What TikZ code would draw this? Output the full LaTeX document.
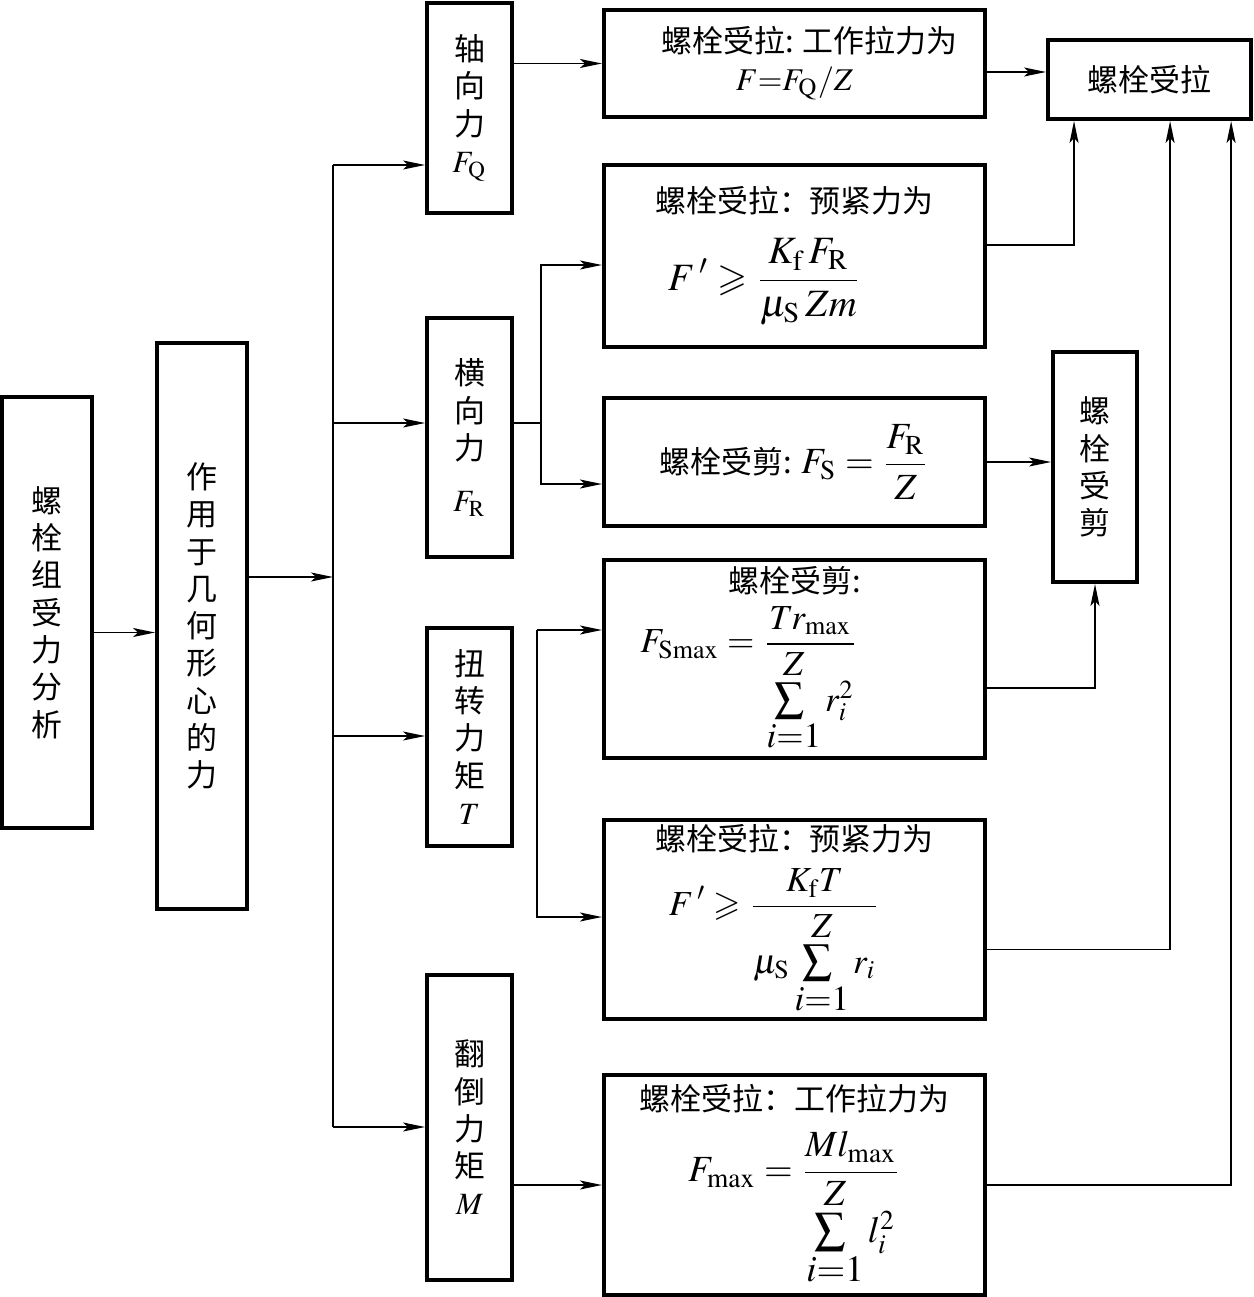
\documentclass[tikz,border=0pt]{standalone}
\usepackage{amsmath,amssymb}
\usepackage{mathptmx}
\usepackage{graphicx}
\usepackage[no-math]{fontspec}
\newfontfamily\cjk{Noto Sans CJK SC}
\usepackage{tikz}
\usetikzlibrary{positioning,arrows.meta,calc}
\newcommand{\rmsub}[1]{_{\mathrm{#1}}}
\newcommand{\fml}[2][11]{{\fontsize{#1}{13}\selectfont$\displaystyle #2$}}
\newcommand{\bigsum}[2]{\textstyle\mathop{\scalebox{1.2}{$\textstyle\sum$}}\limits_{\textstyle #1}^{\textstyle #2}}

\begin{document}
\begin{tikzpicture}[x=0.01cm,y=-0.01cm,
  box/.style={draw,line width=1.1pt,align=center,inner sep=0pt,font=\cjk\fontsize{8.8}{10.6}\selectfont},
  arr/.style={-{Stealth[length=2.2mm,width=0.9mm,inset=0.5mm]},line width=0.45pt}]
\useasboundingbox (0,0) rectangle (1253,1297);
% left column
\node[box,minimum width=0.9cm,minimum height=4.31cm] (zu) at (47,612.5) {螺\\栓\\组\\受\\力\\分\\析};
\node[box,minimum width=0.9cm,minimum height=5.66cm] (xin) at (202,626) {作\\用\\于\\几\\何\\形\\心\\的\\力};
% load kinds
\node[box,minimum width=0.85cm,minimum height=2.10cm] (zhou) at (469.5,108) {轴\\向\\力\\$F\rmsub{Q}$};
\node[box,minimum width=0.85cm,minimum height=2.39cm] (heng) at (469.5,437.5) {横\\向\\力\\[1.5mm]$F\rmsub{R}$};
\node[box,minimum width=0.85cm,minimum height=2.18cm] (niu) at (469.5,737) {扭\\转\\力\\矩\\$T$};
\node[box,minimum width=0.85cm,minimum height=3.05cm] (fan) at (469.5,1127.5) {翻\\倒\\力\\矩\\$M$};
% formulas
\node[box,minimum width=3.81cm,minimum height=1.07cm] (b1) at (794.5,63.5)
  {\hspace*{3mm}螺栓受拉: 工作拉力为\\\fml[9]{F{=}F\rmsub{Q}/Z}};
\node[box,minimum width=3.81cm,minimum height=1.82cm] (b2) at (794.5,256)
  {螺栓受拉：预紧力为\\[2mm]\fml{F\,'\geqslant\frac{K\rmsub{f}\,F\rmsub{R}}{\mu\rmsub{S}\,Zm}}\hspace*{6mm}};
\node[box,minimum width=3.81cm,minimum height=1.28cm] (b3) at (794.5,462)
  {螺栓受剪: \fml[10.5]{F\rmsub{S}=\frac{F\rmsub{R}}{Z}}};
\node[box,minimum width=3.81cm,minimum height=1.98cm] (b4) at (794.5,659)
  {螺栓受剪:\\[0.8mm]\fml[10]{F\rmsub{Smax}=\frac{Tr\rmsub{max}}{\bigsum{i{=}1}{Z}r_i^2}}\hspace*{9mm}};
\node[box,minimum width=3.81cm,minimum height=1.99cm] (b5) at (794.5,919.5)
  {螺栓受拉：预紧力为\\[1.2mm]\fml[10]{F\,'\geqslant\frac{K\rmsub{f}T}{\mu\rmsub{S}\bigsum{i{=}1}{Z}r_i}}\hspace*{4mm}};
\node[box,minimum width=3.81cm,minimum height=2.20cm] (b6) at (794.5,1185)
  {螺栓受拉：工作拉力为\\[1.5mm]\fml[10.5]{F\rmsub{max}=\frac{Ml\rmsub{max}}{\bigsum{i{=}1}{Z}l_i^2}}};
% results
\node[box,minimum width=2.03cm,minimum height=0.79cm] (la) at (1149.5,79.5) {螺栓受拉};
\node[box,minimum width=0.84cm,minimum height=2.30cm] (jian) at (1095,467) {螺\\栓\\受\\剪};

% connectors
\draw[arr] ([yshift=-0.2cm]zu.east) -- ([yshift=-0.2cm]zu.east -| xin.west);
\coordinate (trunk) at (333,577);
\draw[arr] (xin.east |- trunk) -- (trunk);
\foreach \b/\y in {zhou/165,heng/423,niu/736,fan/1127}{
  \coordinate (t\b) at (333,\y);
  \draw[arr] (t\b) -- (t\b -| \b.west);
}
\draw (tzhou) -- (tfan);
\draw[arr] (b1.west -| zhou.east) -- (b1.west);
\coordinate (hs) at (541,423);
\draw (heng.east |- hs) -- (hs);
\draw[arr] (hs) |- ([yshift=-0.09cm]b2.west);
\draw[arr] (hs) |- ([yshift=-0.22cm]b3.west);
\coordinate (ns1) at (537,630);
\coordinate (ns2) at (537,917);
\draw[arr] (ns1) -- (ns1 -| b4.west);
\draw[arr] (ns1) -- (ns2) -- (ns2 -| b5.west);
\draw[arr] (b6.west -| fan.east) -- (b6.west);
\draw[arr] ([yshift=0.075cm]la.west -| b1.east) -- ([yshift=0.075cm]la.west);
\draw[arr] ([yshift=0.11cm]b2.east) -| ([xshift=0.28cm]la.south west);
\draw[arr] (b3.east) -- (b3.east -| jian.west);
\draw[arr] ([yshift=-0.29cm]b4.east) -| (jian.south);
\draw[arr] ([yshift=-0.3cm]b5.east) -| ([xshift=1.24cm]la.south west);
\draw[arr] (b6.east) -| ([xshift=1.85cm]la.south west);
\end{tikzpicture}
\end{document}
